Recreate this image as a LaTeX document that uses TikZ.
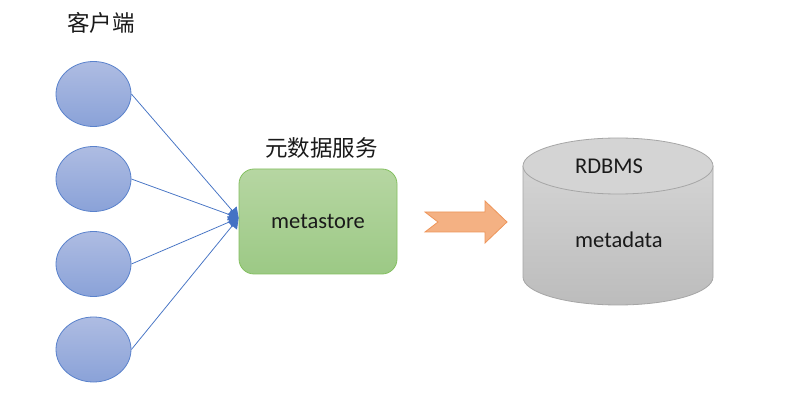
\documentclass[tikz,border=0pt]{standalone}
\usepackage{fontspec}
\setmainfont{Carlito}
\newfontfamily\cjk{Noto Sans CJK SC}
\usetikzlibrary{shapes.geometric,arrows.meta}
\definecolor{connblue}{HTML}{4472C4}
\definecolor{ellTop}{HTML}{AEBCE2}
\definecolor{ellBot}{HTML}{8AA2D8}
\definecolor{ellLine}{HTML}{5A82CC}
\definecolor{grTop}{HTML}{B6D6A2}
\definecolor{grBot}{HTML}{9CC985}
\definecolor{grLine}{HTML}{84C060}
\definecolor{orFill}{HTML}{F4B183}
\definecolor{orLine}{HTML}{EE955A}
\definecolor{cyTop}{HTML}{D4D4D4}
\definecolor{cyBot}{HTML}{BCBCBC}
\definecolor{cyLine}{HTML}{A6A6A6}
\definecolor{txt}{HTML}{1A1A1A}
\tikzset{
  client/.style={ellipse, minimum width=75pt, minimum height=65pt, inner sep=0pt,
    draw=ellLine, line width=0.8pt, top color=ellTop, bottom color=ellBot},
  metabox/.style={rectangle, rounded corners=15pt, minimum width=158pt, minimum height=105pt,
    draw=grLine, line width=0.8pt, top color=grTop, bottom color=grBot,
    font=\fontsize{22.5}{26}\selectfont, text=txt},
  conn/.style={draw=connblue, line width=0.75pt, -{Triangle[length=10pt,width=12pt]}},
  cjklabel/.style={font=\cjk\fontsize{22.5}{26}\selectfont, text=txt, inner sep=0pt},
  latlabel/.style={font=\fontsize{22.5}{26}\selectfont, text=txt, inner sep=0pt}
}
\begin{document}
\begin{tikzpicture}[x=1pt,y=-1pt]
\useasboundingbox (0,0) rectangle (812,414);
\fill[white] (0,0) rectangle (812,414);

% labels
\node[cjklabel] (lblc) at (101,23) {客户端};
\node[cjklabel] (lbls) at (321.5,148) {元数据服务};

% clients
\node[client] (c1) at (93.5,94) {};
\node[client] (c2) at (93.5,179) {};
\node[client] (c3) at (93.5,264) {};
\node[client] (c4) at (93.5,349.5) {};

% metastore
\node[metabox] (ms) at (318,221.5) {metastore};
\coordinate (tip) at ([yshift=3.5pt]ms.west);

\foreach \c in {c1,c2,c3,c4}
  \draw[conn] (\c.east) -- (tip);

% block arrow
\draw[fill=orFill, draw=orLine, line width=0.8pt, line join=miter]
  (425,212) -- (485,212) -- (485,201) -- (507,222) -- (485,243) -- (485,232)
  -- (425,232) -- (438,222) -- cycle;

% cylinder
\path[top color=cyTop, bottom color=cyBot]
  (523,166) -- (523,277) arc[start angle=180, end angle=0, x radius=95, y radius=28]
  -- (713,166) -- cycle;
\draw[cyLine, line width=0.8pt]
  (523,166) -- (523,277) arc[start angle=180, end angle=0, x radius=95, y radius=28]
  -- (713,166);
\draw[cyLine, line width=0.8pt, fill=cyTop] (618,166) ellipse[x radius=95, y radius=28];

\node[latlabel] (rdbms) at (609,166) {RDBMS};
\node[latlabel] (mdata) at (619,240) {metadata};
\end{tikzpicture}
\end{document}
